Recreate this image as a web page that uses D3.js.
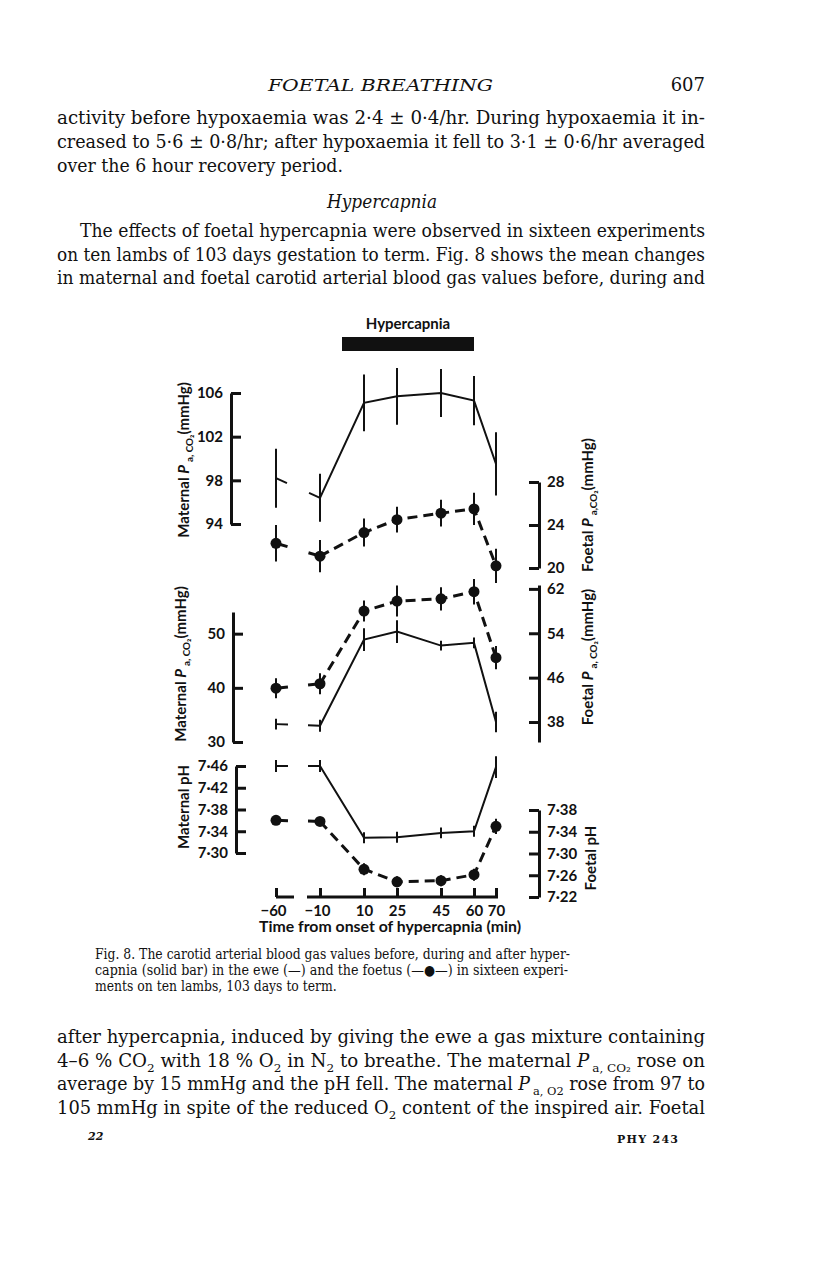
<!DOCTYPE html>
<html>
<head>
<meta charset="utf-8">
<script src="https://cdn.jsdelivr.net/npm/d3@7"></script>
<style>
  body { margin: 0; background: #fff; }
  text { fill: #111; }
</style>
</head>
<body>
<script>
// time points (min from onset of hypercapnia)
const times = [-60, -10, 10, 25, 45, 60, 70];
const timeLabels = ["\u221260", "\u221210", "10", "25", "45", "60", "70"];
const hypercapniaPeriod = [0, 60];

// top panel: maternal (left axis) and foetal (right axis)
const topMaternal = [98.2, 96.4, 105.1, 105.7, 106.0, 105.3, 99.5];
const topMaternalErr = [2.7, 2.2, 2.6, 2.6, 2.2, 2.25, 2.9];
const topFoetal = [22.3, 21.1, 23.3, 24.5, 25.1, 25.5, 20.2];
const topFoetalErr = [1.7, 1.5, 1.3, 1.2, 1.25, 1.5, 1.6];

// middle panel: Pa,CO2
const midMaternal = [33.3, 33.0, 48.9, 50.4, 47.8, 48.3, 33.7];
const midMaternalErr = [1.0, 1.1, 2.1, 2.1, 0.9, 1.0, 1.9];
const midFoetal = [44.1, 44.9, 58.0, 59.8, 60.2, 61.5, 49.6];
const midFoetalErr = [1.8, 1.9, 1.9, 2.8, 2.1, 2.3, 2.1];

// bottom panel: pH
const phMaternal = [7.46, 7.46, 7.328, 7.329, 7.337, 7.34, 7.458];
const phMaternalErr = [0.011, 0.011, 0.010, 0.010, 0.010, 0.010, 0.020];
const phFoetal = [7.361, 7.359, 7.271, 7.248, 7.250, 7.261, 7.350];
const phFoetalErr = [0.008, 0.008, 0.011, 0.010, 0.010, 0.011, 0.014];

// tick labels
const topLeftTicks = [94, 98, 102, 106];
const topRightTicks = [20, 24, 28];
const midLeftTicks = [30, 40, 50];
const midRightTicks = [38, 46, 54, 62];
const phLeftTicks = [7.30, 7.34, 7.38, 7.42, 7.46];
const phRightTicks = [7.22, 7.26, 7.30, 7.34, 7.38];

const svg = d3.select("body").append("svg")
  .attr("width", 816)
  .attr("height", 1281);

svg.append("rect").attr("width", 816).attr("height", 1281).attr("fill", "#fff");

// ---------- page text ----------
const serif = "'DejaVu Serif', 'Liberation Serif', serif";

function addLine(parent, x, y, width, segs, size) {
  const t = parent.append("text")
    .attr("x", x).attr("y", y)
    .attr("font-size", size);
  let shift = 0;
  let prevItalic = false;
  segs.forEach(s => {
    const [kind, str] = typeof s === "string" ? ["", s] : s;
    const target = kind === "sub" ? Math.round(size * 0.28) : 0;
    const ts = t.append("tspan").text(str).attr("dy", target - shift);
    shift = target;
    if (kind === "sub") ts.attr("font-size", size * 0.66);
    if (kind === "sub" && prevItalic) ts.attr("dx", 3);
    if (kind === "i") ts.attr("font-style", "italic");
    prevItalic = kind === "i";
  });
  if (width) t.attr("textLength", width).attr("lengthAdjust", "spacingAndGlyphs");
  return t;
}

// a block of lines: justified lines get a fixed width, an unjustified last
// line keeps the same horizontal squeeze as the first one
function addBlock(parent, lines, size) {
  let ratio = 1;
  lines.forEach(([x, y, w, segs], i) => {
    const t = addLine(parent, x, y, null, segs, size);
    const natural = t.node().getComputedTextLength();
    if (i === 0) ratio = w / natural;
    const width = w == null ? natural * ratio : w;
    t.attr("textLength", width).attr("lengthAdjust", "spacingAndGlyphs");
  });
}

const page = svg.append("g").attr("font-family", serif);

// running head
page.append("text")
  .attr("x", 268).attr("y", 91)
  .attr("font-size", 17).attr("font-style", "italic")
  .attr("textLength", 225).attr("lengthAdjust", "spacingAndGlyphs")
  .text("FOETAL BREATHING");
page.append("text")
  .attr("x", 705).attr("y", 91).attr("text-anchor", "end")
  .attr("font-size", 18).text("607");

addBlock(page, [
  [57, 124, 648, ["activity before hypoxaemia was 2\u00b74 \u00b1 0\u00b74/hr. During hypoxaemia it in-"]],
  [57, 148, 648, ["creased to 5\u00b76 \u00b1 0\u00b78/hr; after hypoxaemia it fell to 3\u00b71 \u00b1 0\u00b76/hr averaged"]],
  [57, 172, 286, ["over the 6 hour recovery period."]]
], 18);

addBlock(page, [
  [80, 237, 625, ["The effects of foetal hypercapnia were observed in sixteen experiments"]],
  [57, 261, 648, ["on ten lambs of 103 days gestation to term. Fig. 8 shows the mean changes"]],
  [57, 284, 648, ["in maternal and foetal carotid arterial blood gas values before, during and"]]
], 18);

page.append("text")
  .attr("x", 327).attr("y", 208)
  .attr("font-size", 18).attr("font-style", "italic")
  .attr("textLength", 110).attr("lengthAdjust", "spacingAndGlyphs")
  .text("Hypercapnia");

addBlock(page, [
  [95, 959, 475, ["Fig. 8. The carotid arterial blood gas values before, during and after hyper-"]],
  [95, 975, 473, ["capnia (solid bar) in the ewe (\u2014) and the foetus (\u2014\u25cf\u2014) in sixteen experi-"]],
  [95, 991, null, ["ments on ten lambs, 103 days to term."]]
], 14);

addBlock(page, [
  [57, 1043, 648, ["after hypercapnia, induced by giving the ewe a gas mixture containing"]],
  [57, 1067, 648, ["4\u20136 % CO", ["sub", "2"], " with 18 % O", ["sub", "2"], " in N", ["sub", "2"],
    " to breathe. The maternal ", ["i", "P"], ["sub", "a, CO\u2082"], " rose on"]],
  [57, 1090, 648, ["average by 15 mmHg and the pH fell. The maternal ", ["i", "P"], ["sub", "a, O2"],
    " rose from 97 to"]],
  [57, 1114, 648, ["105 mmHg in spite of the reduced O", ["sub", "2"], " content of the inspired air. Foetal"]]
], 18);

page.append("text")
  .attr("x", 88).attr("y", 1140)
  .attr("font-size", 11).attr("font-weight", "bold").attr("font-style", "italic")
  .text("22");
page.append("text")
  .attr("x", 617).attr("y", 1143)
  .attr("font-size", 11).attr("font-weight", "bold")
  .attr("textLength", 61).attr("lengthAdjust", "spacing")
  .text("PHY 243");

// ---------- chart ----------
const sans = "Lato, 'Open Sans', sans-serif";
const chart = svg.append("g").attr("font-family", sans);

// broken time axis: -60 sits on its own short stub
const x = d3.scaleLinear().domain([-60, -10, 70]).range([276, 320, 496]);

// hypercapnia bar
chart.append("rect")
  .attr("x", x(hypercapniaPeriod[0]))
  .attr("y", 337)
  .attr("width", x(hypercapniaPeriod[1]) - x(hypercapniaPeriod[0]))
  .attr("height", 14)
  .attr("fill", "#111");
chart.append("text")
  .attr("x", x(d3.mean(hypercapniaPeriod)))
  .attr("y", 329)
  .attr("text-anchor", "middle")
  .attr("font-size", 15).attr("font-weight", "bold")
  .text("Hypercapnia");

const panels = [
  {
    mat: topMaternal, matErr: topMaternalErr, foe: topFoetal, foeErr: topFoetalErr,
    yL: d3.scaleLinear().domain([94, 106]).range([524, 393]),
    yR: d3.scaleLinear().domain([20, 28]).range([568, 482]),
    ticksL: topLeftTicks, ticksR: topRightTicks, fmt: d3.format("d"),
    axL: 231, axR: 539,
    titleL: { x: 189, y: 460, segs: ["Maternal ", ["i", "P"], ["sub", "a, CO\u2082"], "(mmHg)"] },
    titleR: { x: 593, y: 505, segs: ["Foetal ", ["i", "P"], ["sub", "a,CO\u2082"], "(mmHg)"] }
  },
  {
    mat: midMaternal, matErr: midMaternalErr, foe: midFoetal, foeErr: midFoetalErr,
    yL: d3.scaleLinear().domain([30, 54]).range([742, 612]),
    yR: d3.scaleLinear().domain([34.4, 62.7]).range([742, 585]),
    ticksL: midLeftTicks, ticksR: midRightTicks, fmt: d3.format("d"),
    axL: 233, axR: 539,
    titleL: { x: 186, y: 664, segs: ["Maternal ", ["i", "P"], ["sub", "a, CO\u2082"], "(mmHg)"] },
    titleR: { x: 593, y: 657, segs: ["Foetal ", ["i", "P"], ["sub", "a, CO\u2082"], "(mmHg)"] }
  },
  {
    mat: phMaternal, matErr: phMaternalErr, foe: phFoetal, foeErr: phFoetalErr,
    yL: d3.scaleLinear().domain([7.30, 7.46]).range([853, 766]),
    yR: d3.scaleLinear().domain([7.22, 7.38]).range([897, 810]),
    ticksL: phLeftTicks, ticksR: phRightTicks, fmt: d => d.toFixed(2).replace(".", "\u00b7"),
    axL: 236, axR: 539,
    titleL: { x: 189, y: 807, segs: ["Maternal pH"] },
    titleR: { x: 596, y: 858, segs: ["Foetal pH"] }
  }
];

function styleAxis(g) {
  g.select(".domain").attr("stroke", "#111").attr("stroke-width", 3);
  g.selectAll(".tick line").attr("stroke", "#111").attr("stroke-width", 3);
  g.selectAll(".tick text")
    .attr("font-family", sans).attr("font-size", 15).attr("font-weight", "bold")
    .attr("fill", "#111");
}

// short segment from p toward q (the -60 -> -10 gap is not joined)
function stub(p, q, len) {
  const dx = q[0] - p[0], dy = q[1] - p[1];
  const d = Math.hypot(dx, dy);
  return [p, [p[0] + dx * len / d, p[1] + dy * len / d]];
}

function drawSeries(vals, errs, y, foetal) {
  const pts = times.map((t, i) => [x(t), y(vals[i])]);
  const g = chart.append("g");

  g.selectAll(".err")
    .data(times)
    .join("line")
    .attr("x1", d => x(d)).attr("x2", d => x(d))
    .attr("y1", (d, i) => y(vals[i] - errs[i]))
    .attr("y2", (d, i) => y(vals[i] + errs[i]))
    .attr("stroke", "#111").attr("stroke-width", 2);

  const line = d3.line();
  g.append("path")
    .attr("d", line(pts.slice(1)))
    .attr("fill", "none")
    .attr("stroke", "#111")
    .attr("stroke-width", foetal ? 3 : 2)
    .attr("stroke-dasharray", foetal ? "10 6" : null);

  [stub(pts[0], pts[1], 12), stub(pts[1], pts[0], 12)].forEach(s => {
    g.append("path")
      .attr("d", line(s))
      .attr("fill", "none")
      .attr("stroke", "#111")
      .attr("stroke-width", foetal ? 3 : 2);
  });

  if (foetal) {
    g.selectAll("circle")
      .data(pts)
      .join("circle")
      .attr("cx", d => d[0]).attr("cy", d => d[1])
      .attr("r", 5.5).attr("fill", "#111");
  }
}

function axisTitle(t) {
  const g = chart.append("g").attr("transform", `translate(${t.x},${t.y}) rotate(-90)`);
  addLine(g, 0, 0, null, t.segs, 15)
    .attr("text-anchor", "middle")
    .attr("font-weight", "bold");
}

panels.forEach(p => {
  chart.append("g")
    .attr("transform", `translate(${p.axL},0)`)
    .call(d3.axisLeft(p.yL).tickValues(p.ticksL).tickFormat(p.fmt)
      .tickSizeInner(-10).tickSizeOuter(0).tickPadding(8))
    .call(styleAxis);
  chart.append("g")
    .attr("transform", `translate(${p.axR},0)`)
    .call(d3.axisRight(p.yR).tickValues(p.ticksR).tickFormat(p.fmt)
      .tickSizeInner(-10).tickSizeOuter(0).tickPadding(8))
    .call(styleAxis);

  drawSeries(p.mat, p.matErr, p.yL, false);
  drawSeries(p.foe, p.foeErr, p.yR, true);

  axisTitle(p.titleL);
  axisTitle(p.titleR);
});

// time axis (broken)
const axisY = 897;
const xAxis = chart.append("g")
  .attr("transform", `translate(0,${axisY})`)
  .call(d3.axisBottom(x).tickValues(times)
    .tickFormat((d, i) => timeLabels[i])
    .tickSizeInner(-9).tickSizeOuter(0).tickPadding(8))
  .call(styleAxis);
xAxis.select(".domain").remove();
xAxis.selectAll(".tick text").filter(d => d < 0).attr("dx", "-0.2em");

[[x(-60), x(-60) + 18], [x(-10) - 13, x(70) + 2]].forEach(([a, b]) => {
  chart.append("line")
    .attr("x1", a).attr("x2", b)
    .attr("y1", axisY).attr("y2", axisY)
    .attr("stroke", "#111").attr("stroke-width", 3);
});

chart.append("text")
  .attr("x", 390).attr("y", 932)
  .attr("text-anchor", "middle")
  .attr("font-size", 15).attr("font-weight", "bold")
  .attr("textLength", 262).attr("lengthAdjust", "spacingAndGlyphs")
  .text("Time from onset of hypercapnia (min)");
</script>
</body>
</html>
